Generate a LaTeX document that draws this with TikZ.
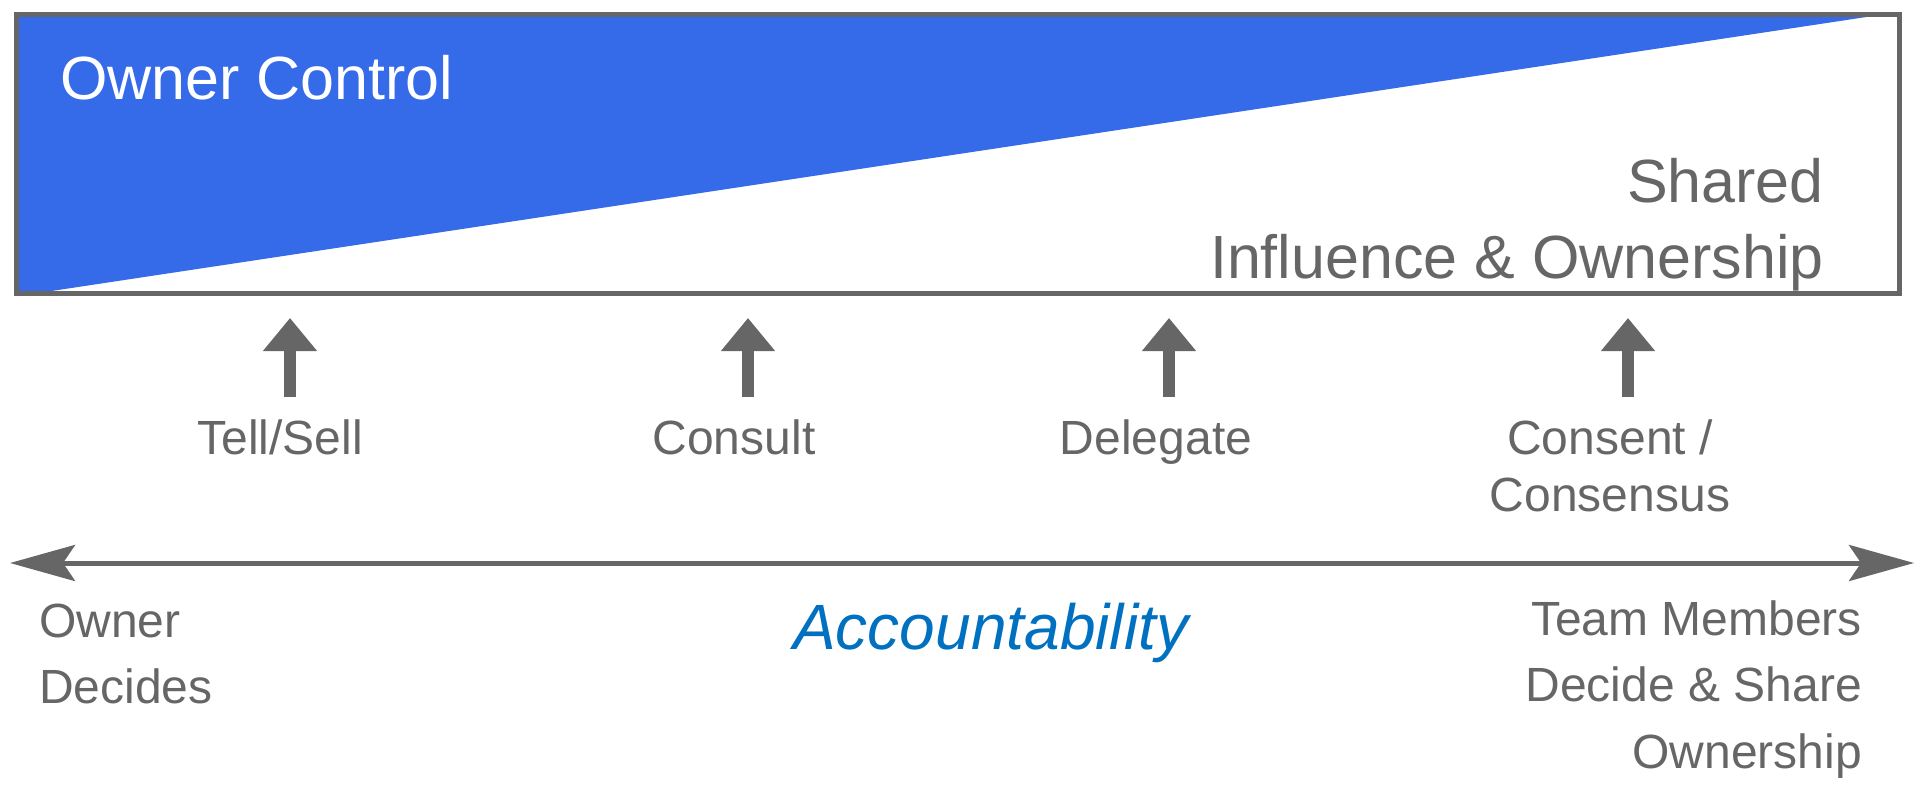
\documentclass[tikz,border=0pt]{standalone}
\usepackage{fontspec}
\setmainfont{Liberation Sans}
\usetikzlibrary{arrows.meta}
\definecolor{ctrlblue}{RGB}{53,106,232}
\definecolor{txtgray}{RGB}{102,102,102}
\definecolor{acblue}{RGB}{0,112,192}
\newcommand{\bigtxt}{\fontsize{61pt}{76pt}\selectfont}
\newcommand{\lbltxt}{\fontsize{48pt}{57pt}\selectfont}
\newcommand{\sidetxt}{\fontsize{48pt}{66.5pt}\selectfont}
\tikzset{
  frame/.style={draw=txtgray, line width=5pt},
  uparrow/.style={draw=txtgray, line width=12pt, -{Triangle[length=33pt,width=52pt]}},
  axisarrow/.style={draw=txtgray, line width=5pt, {Stealth[length=65pt,width=36pt,inset=12pt]}-{Stealth[length=65pt,width=36pt,inset=12pt]}},
  txt/.style={inner sep=0pt, text=txtgray},
}
\begin{document}
\begin{tikzpicture}[x=1pt,y=-1pt]
\useasboundingbox (0,0) rectangle (1929,789);
% blue wedge
\fill[ctrlblue] (16,14.5) -- (1883,14.5) -- (35,293.5) -- (16,293.5) -- cycle;
\draw[frame] (16,14.5) rectangle (1899,293.5);
\node[inner sep=0pt, text=white, anchor=base west, font=\bigtxt] (oc) at (60,100) {Owner Control};
\node[txt, anchor=base east, font=\bigtxt] (sh) at (1824,202)
  {\begin{tabular}[t]{@{}r@{}}Shared\\Influence \& Ownership\end{tabular}};
% up arrows
\coordinate (a1s) at (290,397); \coordinate (a1e) at (290,318);
\coordinate (a2s) at (748,397); \coordinate (a2e) at (748,318);
\coordinate (a3s) at (1169,397); \coordinate (a3e) at (1169,318);
\coordinate (a4s) at (1628,397); \coordinate (a4e) at (1628,318);
\draw[uparrow] (a1s) -- (a1e);
\draw[uparrow] (a2s) -- (a2e);
\draw[uparrow] (a3s) -- (a3e);
\draw[uparrow] (a4s) -- (a4e);
\node[txt, anchor=base, font=\lbltxt] (tell) at (280,454) {Tell/Sell};
\node[txt, anchor=base, font=\lbltxt] (cons) at (734,454) {Consult};
\node[txt, anchor=base, font=\lbltxt] (dele) at (1156,454) {Delegate};
\node[txt, anchor=base, font=\lbltxt] (csns) at (1610,454)
  {\begin{tabular}[t]{@{}c@{}}Consent /\\Consensus\end{tabular}};
% axis
\coordinate (axl) at (10,563);
\coordinate (axr) at (1914,563);
\draw[axisarrow] (axl) -- (axr);
\node[txt, anchor=base west, font=\sidetxt] (od) at (39,637)
  {\begin{tabular}[t]{@{}l@{}}Owner\\Decides\end{tabular}};
\node[inner sep=0pt, text=acblue, anchor=base west, font=\fontsize{64pt}{76pt}\selectfont\itshape] (acc) at (793,649) {Accountability};
\node[txt, anchor=base east, font=\sidetxt] (tm) at (1862,635)
  {\begin{tabular}[t]{@{}r@{}}Team Members\\Decide \& Share\\Ownership\end{tabular}};
\end{tikzpicture}
\end{document}
